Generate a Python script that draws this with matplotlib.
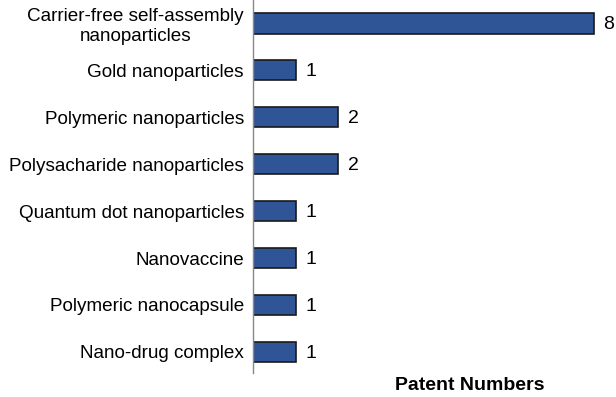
import matplotlib.pyplot as plt

plt.rcParams['font.family'] = ['Liberation Sans', 'DejaVu Sans']

labels = ['Carrier-free self-assembly\nnanoparticles', 'Gold nanoparticles',
          'Polymeric nanoparticles', 'Polysacharide nanoparticles',
          'Quantum dot nanoparticles', 'Nanovaccine',
          'Polymeric nanocapsule', 'Nano-drug complex']
counts = [8, 1, 2, 2, 1, 1, 1, 1]

fig = plt.figure(figsize=(6.16, 3.97), dpi=100)
ax = fig.add_axes([253 / 616, 24 / 397, 363 / 616, 373 / 397])

pos = list(range(len(labels)))
ax.barh(pos, counts, height=0.43, color='#2F5597', edgecolor='#1a1a1a', linewidth=1.2)

for p, c in zip(pos, counts):
    ax.annotate(str(c), (c, p), xytext=(7, -1), textcoords='offset points',
                va='center', ha='left', fontsize=14)

ax.set_yticks(pos)
ax.set_yticklabels(labels, fontsize=13.6, multialignment='center')
ax.tick_params(axis='y', length=0, pad=6.5)
ax.set_xticks([])
ax.set_xlim(0, 8.52)
ax.set_ylim(7.45, -0.5)

for s in ['top', 'right', 'bottom']:
    ax.spines[s].set_visible(False)
ax.spines['left'].set_color('#888888')
ax.spines['left'].set_linewidth(1)

fig.text(470 / 616, 1 - 385 / 397, 'Patent Numbers', ha='center', va='center',
         fontsize=14, fontweight='bold')

fig.savefig('out.png', dpi=100)
